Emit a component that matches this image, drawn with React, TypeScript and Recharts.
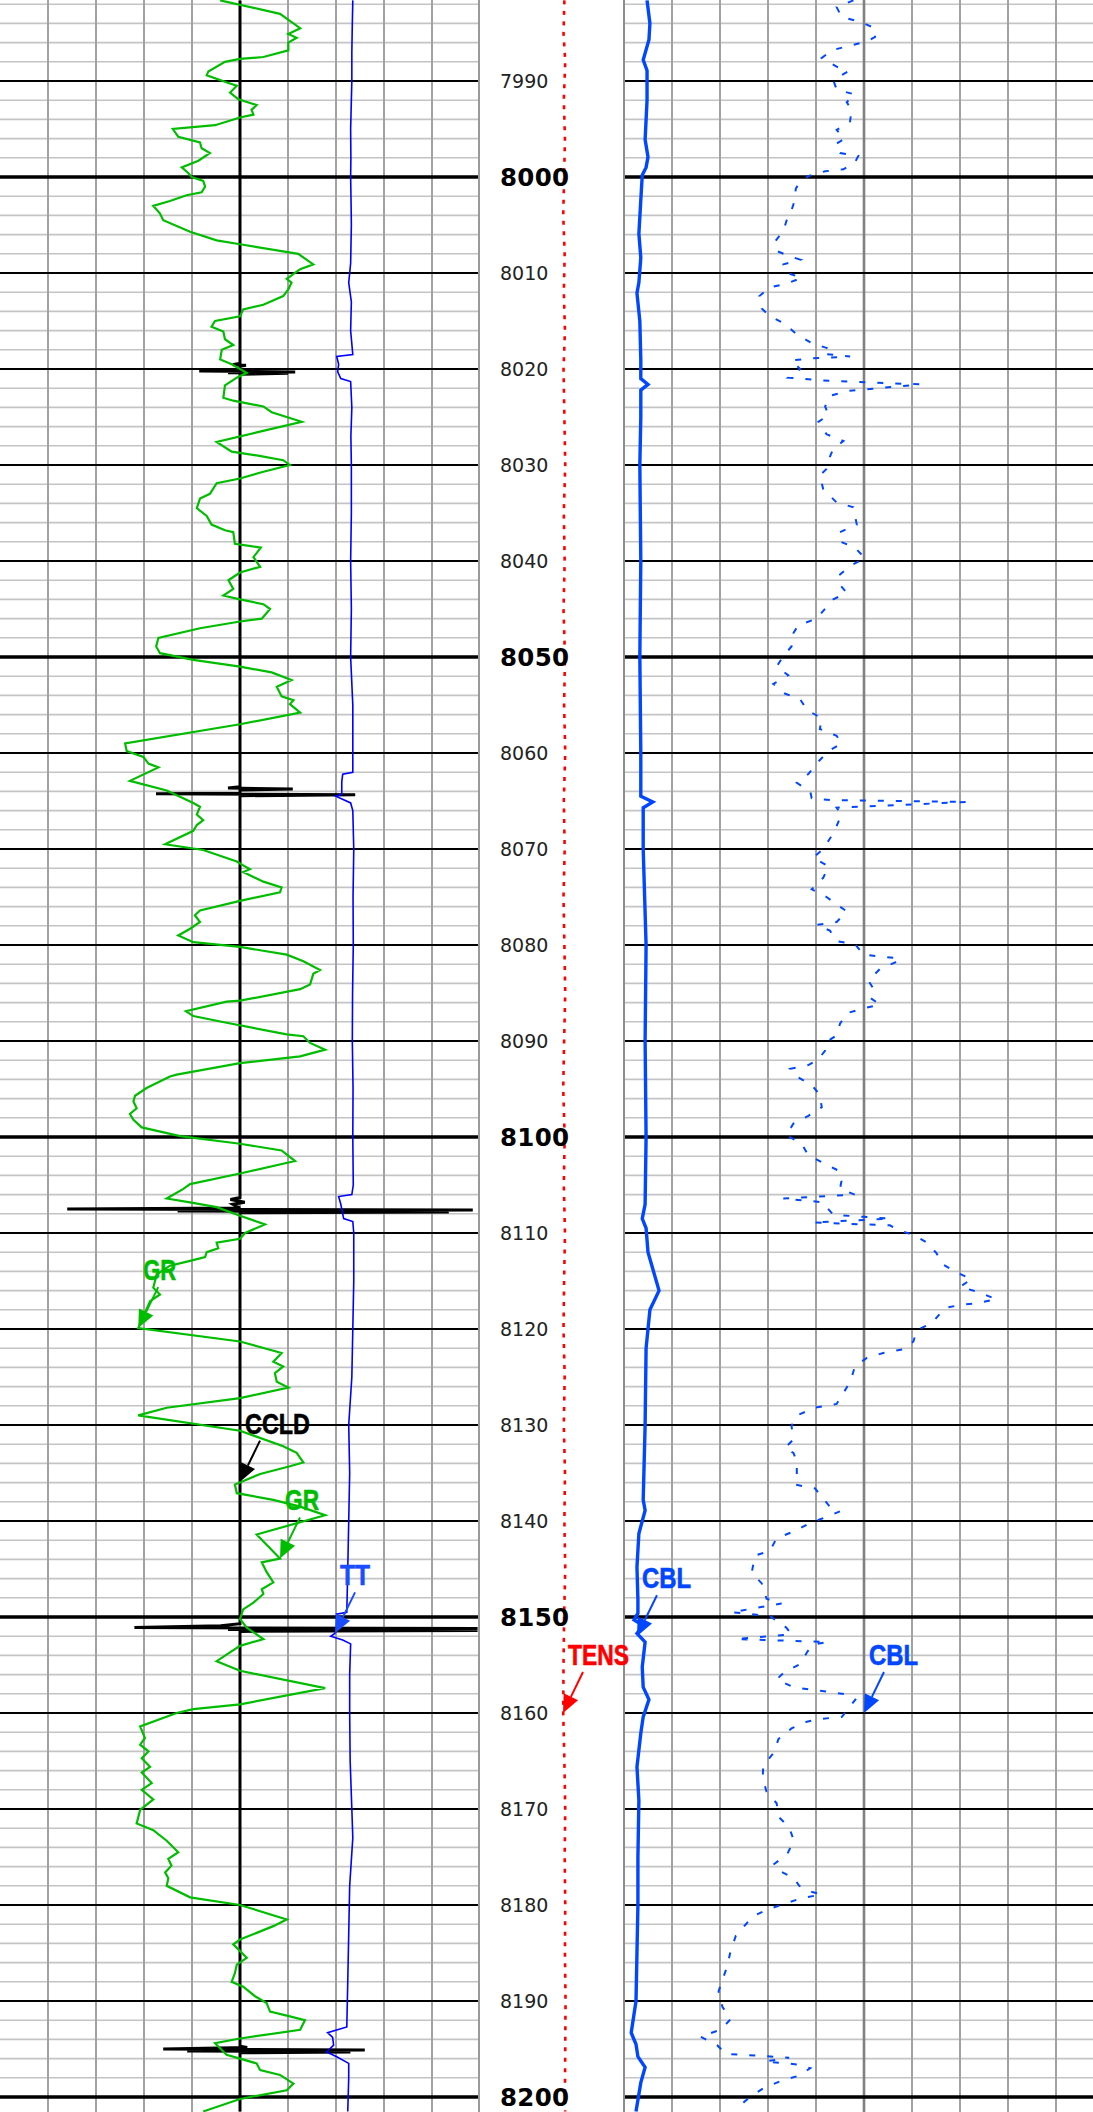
import React from 'react';
import { LineChart, Line, XAxis, YAxis, ReferenceLine, ReferenceDot } from 'recharts';

// ---------------- depth frame ----------------
const DEPTH_DOMAIN: [number, number] = [7981.56, 8201.56];
const H = 2112;

const DEPTH_LABELS = [7990, 8000, 8010, 8020, 8030, 8040, 8050, 8060, 8070, 8080, 8090, 8100, 8110, 8120, 8130, 8140, 8150, 8160, 8170, 8180, 8190, 8200];
const MAJOR_DEPTHS = [7990, 8010, 8020, 8030, 8040, 8060, 8070, 8080, 8090, 8110, 8120, 8130, 8140, 8160, 8170, 8180, 8190];
const BOLD_DEPTHS = [8000, 8050, 8100, 8150, 8200];
const MINOR_DEPTHS: number[] = [];
for (let d = 7982; d <= 8200; d += 2) if (d % 10 !== 0) MINOR_DEPTHS.push(d);
const DIVISIONS = [1, 2, 3, 4, 5, 6, 7, 8, 9];

// ---------------- curves: [depth ft, value] ----------------
// GR, API (0-150)
const GR: [number, number][] = [
  [7981.6,68.8],[7983.0,87.5],[7984.5,93.8],[7985.1,90.1],[7985.5,92.7],[7986.0,90.1],[7986.8,90.1],[7987.5,82.3],[7987.7,75.0],[7988.0,70.3],[7989.0,65.1],[7989.4,64.6],[7990.2,71.4],[7990.5,74.0],[7991.2,71.9],[7991.9,74.5],[7992.5,80.2],[7993.0,78.6],[7993.5,79.2],[7993.8,75.0],[7994.6,67.2],[7995.0,54.0],[7995.8,55.7],[7996.4,62.5],[7997.0,63.0],[7997.5,65.6],[7998.3,62.0],[7999.0,56.8],[7999.6,58.9],[8000.0,59.9],[8000.4,63.5],[8001.0,64.1],[8001.6,63.0],[8001.9,58.3],[8002.5,53.1],[8003.0,47.9],[8003.8,50.0],[8004.5,51.0],[8005.7,59.4],[8006.6,67.7],[8007.0,75.0],[8008.0,93.2],[8009.1,97.9],[8009.6,93.8],[8010.6,89.6],[8011.0,91.1],[8011.7,90.1],[8012.4,88.5],[8013.3,82.3],[8013.8,76.0],[8014.5,75.0],[8015.0,67.2],[8015.6,66.1],[8016.1,69.8],[8016.9,70.3],[8017.5,72.9],[8018.0,69.3],[8019.0,68.8],[8019.5,72.4],[8020.4,77.1],[8020.9,74.0],[8021.7,70.3],[8023.0,69.8],[8023.3,72.9],[8023.9,82.3],[8024.5,84.9],[8025.5,94.3],[8026.6,80.2],[8027.6,67.7],[8028.6,72.4],[8029.0,80.2],[8029.5,88.5],[8030.0,90.6],[8030.7,82.3],[8031.4,75.0],[8031.9,67.7],[8033.0,65.6],[8033.5,62.5],[8034.5,61.5],[8035.3,64.6],[8036.2,66.1],[8036.8,70.3],[8037.0,72.9],[8038.2,73.4],[8038.6,81.5],[8039.6,79.2],[8040.6,81.3],[8041.2,75.0],[8042.0,71.4],[8042.9,72.9],[8043.6,69.8],[8044.0,75.0],[8044.5,82.3],[8045.0,84.4],[8046.0,81.8],[8046.3,75.0],[8047.0,62.5],[8048.0,49.5],[8048.9,48.8],[8049.6,50.0],[8050.3,60.4],[8051.0,75.0],[8051.6,84.9],[8052.4,91.1],[8053.1,86.5],[8054.1,88.0],[8054.5,91.7],[8054.9,90.6],[8055.8,93.8],[8057.0,75.0],[8059.0,39.1],[8059.8,39.6],[8060.4,44.8],[8061.1,46.4],[8061.5,49.5],[8062.9,40.6],[8063.9,52.1],[8065.2,60.4],[8065.6,62.5],[8066.4,61.5],[8067.0,63.5],[8067.5,61.5],[8068.1,60.4],[8069.5,51.6],[8070.1,63.5],[8071.3,74.0],[8071.7,76.0],[8072.1,78.1],[8072.4,76.0],[8073.4,82.3],[8074.0,88.0],[8074.5,87.5],[8075.4,75.0],[8076.4,62.5],[8076.9,60.9],[8077.6,62.5],[8078.3,59.4],[8079.0,55.7],[8079.7,60.4],[8080.2,75.0],[8081.0,89.6],[8081.7,94.8],[8082.6,100.0],[8083.0,97.9],[8084.1,96.9],[8084.6,93.8],[8085.8,75.0],[8085.9,70.8],[8086.9,58.1],[8087.4,60.4],[8088.1,70.8],[8089.3,89.6],[8089.5,94.8],[8090.2,96.9],[8090.9,101.6],[8091.6,93.8],[8092.3,75.0],[8093.5,55.2],[8093.7,53.1],[8094.9,45.8],[8095.7,42.2],[8096.3,41.7],[8097.0,42.7],[8097.6,40.6],[8098.2,41.7],[8099.0,44.3],[8099.9,56.3],[8100.7,75.0],[8101.4,88.0],[8102.5,92.2],[8103.8,75.0],[8104.9,59.4],[8105.4,57.3],[8106.4,52.1],[8106.8,59.4],[8107.3,67.7],[8108.2,75.0],[8109.1,82.8],[8110.0,76.6],[8110.6,75.0],[8111.0,67.7],[8111.6,68.2],[8112.0,64.6],[8112.5,64.1],[8112.9,59.4],[8113.4,53.1],[8114.3,49.0],[8115.7,47.9],[8116.4,50.0],[8117.1,46.9],[8119.9,43.2],[8121.3,75.0],[8122.5,88.0],[8123.4,85.4],[8123.9,88.5],[8124.6,85.9],[8125.5,86.5],[8126.1,90.1],[8127.2,75.0],[8128.2,52.1],[8129.0,43.2],[8130.6,75.0],[8132.2,88.5],[8132.9,92.7],[8133.9,94.8],[8134.3,90.6],[8135.1,81.3],[8136.2,73.4],[8137.1,74.0],[8137.8,85.4],[8138.5,93.8],[8139.4,101.6],[8141.4,80.2],[8143.9,87.5],[8144.3,81.8],[8145.3,83.3],[8146.4,85.4],[8147.1,81.8],[8147.6,82.3],[8148.5,79.2],[8149.2,76.0],[8150.2,75.0],[8151.1,77.1],[8152.3,82.3],[8153.0,75.0],[8154.6,67.7],[8155.6,75.0],[8157.4,101.6],[8159.1,75.0],[8159.6,60.4],[8160.0,55.2],[8161.4,43.8],[8162.6,45.3],[8163.3,43.8],[8164.0,46.4],[8164.7,44.3],[8165.6,46.9],[8166.2,44.3],[8167.3,47.4],[8168.0,44.3],[8169.0,47.9],[8170.1,43.8],[8171.5,42.7],[8172.2,47.9],[8173.3,52.1],[8174.5,55.7],[8175.2,52.6],[8175.9,53.6],[8176.6,51.6],[8177.2,52.6],[8178.0,52.1],[8179.2,59.4],[8180.0,75.0],[8181.5,89.6],[8182.2,85.4],[8182.9,80.2],[8183.6,75.0],[8184.1,72.9],[8184.8,75.0],[8185.5,77.1],[8186.2,74.0],[8187.1,73.4],[8188.0,72.4],[8188.5,76.0],[8189.5,79.7],[8190.2,83.3],[8191.1,84.4],[8191.6,90.6],[8192.0,95.3],[8193.0,93.8],[8193.9,75.0],[8194.4,67.2],[8195.6,70.8],[8196.0,75.0],[8196.5,80.2],[8197.2,81.3],[8197.7,87.5],[8198.6,91.7],[8199.3,89.6],[8200.2,75.0],[8201.5,63.5],
];

// CCLD, collar locator (-10..10)
const CCLD: [number, number][] = [
  [7981.6,0],[8019.4,0],[8019.55,-0.3],[8019.6,0.25],[8019.7,0],[8020.1,0],[8020.2,-1.7],[8020.3,2.3],[8020.4,-0.5],[8020.45,2.0],[8020.55,0],
  [8063.5,0],[8063.65,-0.5],[8063.75,2.2],[8063.85,0],[8064.2,0],[8064.25,-3.5],[8064.35,4.8],[8064.45,0],
  [8106.3,0],[8106.5,-0.4],[8106.8,0.2],[8107.0,-0.3],[8107.4,0],[8107.5,-7.2],[8107.6,9.7],[8107.7,-2.6],[8107.8,8.7],[8107.9,0],
  [8150.7,0],[8150.9,-0.8],[8151.1,-4.4],[8151.2,9.9],[8151.3,-0.5],[8151.4,9.9],[8151.5,0],
  [8194.7,0],[8194.85,0.3],[8195.0,-3.2],[8195.1,5.2],[8195.2,-2.2],[8195.3,4.6],[8195.4,0],[8201.5,0],
];

// TT, travel time in microseconds (400 left .. 200 right)
const TT: [number, number][] = [
  [7981.6,253.0],[7984.0,253.2],[7987.0,253.4],[7990.0,253.4],[7993.0,253.7],[7995.0,253.9],[7998.0,253.8],[8000.0,253.9],[8003.0,253.7],[8005.0,253.6],[8009.0,253.9],[8011.0,254.7],[8013.0,253.6],[8016.0,253.9],[8018.5,253.0],[8018.7,259.7],[8019.5,258.9],[8020.3,259.3],[8021.0,258.0],[8021.3,253.9],[8024.0,253.4],[8027.0,253.8],[8030.0,253.6],[8035.0,253.6],[8040.0,253.9],[8045.0,253.6],[8050.0,253.9],[8055.0,253.0],[8060.0,253.0],[8062.0,253.0],[8062.2,257.2],[8063.0,257.6],[8064.3,257.6],[8064.5,260.1],[8065.2,253.9],[8066.0,253.0],[8070.0,252.6],[8075.0,252.9],[8080.0,252.8],[8085.0,253.1],[8090.0,253.2],[8095.0,252.9],[8100.0,253.0],[8105.0,252.8],[8106.0,253.4],[8106.2,258.9],[8107.0,258.0],[8108.5,256.8],[8108.8,253.0],[8110.0,252.6],[8115.0,252.6],[8120.0,253.0],[8125.0,253.4],[8130.0,254.7],[8135.0,254.3],[8140.0,254.7],[8145.0,255.1],[8149.5,255.5],[8149.7,259.7],[8150.5,258.0],[8151.7,260.5],[8152.0,262.2],[8152.4,257.2],[8152.8,253.9],[8156.0,254.3],[8160.0,254.3],[8165.0,254.1],[8170.0,253.4],[8173.0,253.0],[8178.0,254.3],[8183.0,254.7],[8188.0,255.1],[8192.7,255.5],[8193.3,263.5],[8193.8,261.4],[8194.6,261.0],[8195.3,263.9],[8195.8,259.7],[8196.5,254.7],[8198.0,254.7],[8201.5,255.1],
];

// CBL amplitude, mV (0-100)
const CBL: [number, number][] = [
  [7981.6,4.8],[7984.0,5.4],[7985.7,5.2],[7987.8,4.0],[7988.9,4.8],[7992.0,4.8],[7996.1,4.4],[7997.9,5.0],[7999.0,4.6],[7999.8,3.8],[8002.4,3.5],[8005.9,3.1],[8008.4,3.5],[8011.0,3.1],[8012.1,2.7],[8015.0,3.3],[8019.0,3.5],[8021.0,3.5],[8021.6,5.0],[8022.2,3.5],[8025.0,3.5],[8030.0,3.3],[8040.0,3.5],[8050.0,3.3],[8060.0,3.5],[8064.5,3.5],[8065.1,6.0],[8065.7,4.0],[8070.0,4.0],[8080.0,4.6],[8090.0,4.4],[8100.0,4.6],[8107.0,4.4],[8108.5,3.8],[8109.5,4.6],[8112.0,5.0],[8116.0,7.3],[8118.0,5.4],[8122.0,4.6],[8130.0,4.4],[8137.8,4.0],[8138.9,4.4],[8141.3,3.1],[8144.8,2.7],[8148.2,2.9],[8149.6,2.9],[8150.3,2.1],[8150.9,4.0],[8151.7,2.7],[8152.6,4.4],[8155.2,3.8],[8157.3,4.0],[8158.6,5.2],[8160.4,4.0],[8162.1,3.5],[8165.6,2.7],[8169.1,3.1],[8175.0,2.9],[8180.0,2.9],[8185.0,2.7],[8190.0,2.5],[8193.3,1.5],[8194.5,2.5],[8195.8,2.9],[8196.9,4.4],[8198.5,3.5],[8201.5,2.5],
];

// CBL amplified, mV (0-10)
const CBL_AMP: [number, number][] = [
  [7981.6,4.78],[7982.3,4.43],[7983.3,4.53],[7983.9,4.95],[7984.5,5.23],[7985.4,5.23],[7985.9,5.06],[7986.3,4.71],[7986.8,4.33],[7987.6,4.12],[7988.5,4.43],[7989.0,4.67],[7989.9,4.36],[7990.9,4.43],[7991.4,4.81],[7992.2,4.64],[7993.0,4.74],[7994.2,4.71],[7995.1,4.43],[7996.0,4.60],[7996.6,4.40],[7997.5,4.50],[7997.8,4.88],[7998.5,4.81],[7999.2,4.57],[7999.4,4.19],[7999.9,3.84],[8000.5,3.67],[8001.2,3.58],[8002.7,3.54],[8003.9,3.46],[8004.5,3.39],[8005.6,3.32],[8006.7,3.15],[8007.7,3.18],[8008.2,3.42],[8008.6,3.67],[8009.1,3.32],[8009.9,3.35],[8010.5,3.70],[8011.1,3.39],[8011.5,3.04],[8012.4,2.82],[8013.7,2.87],[8014.5,3.04],[8015.3,3.35],[8016.4,3.60],[8017.3,3.91],[8017.8,4.22],[8018.4,4.12],[8018.7,4.71],[8018.9,3.88],[8019.1,3.49],[8020.0,3.67],[8020.9,3.42],[8021.2,4.15],[8021.6,6.17],[8022.3,4.64],[8022.8,4.29],[8023.9,4.19],[8024.8,4.26],[8025.5,4.05],[8026.8,4.22],[8027.5,4.57],[8028.3,4.36],[8029.5,4.26],[8030.4,4.22],[8031.1,4.08],[8032.5,4.15],[8033.9,4.43],[8034.4,4.78],[8036.2,4.85],[8037.0,4.50],[8037.9,4.47],[8038.6,4.81],[8039.7,5.02],[8040.5,4.71],[8041.4,4.50],[8042.3,4.47],[8043.3,4.64],[8044.0,4.36],[8046.0,4.01],[8046.7,3.63],[8047.5,3.53],[8048.9,3.49],[8049.9,3.32],[8051.0,3.18],[8051.9,3.42],[8052.8,3.11],[8053.8,3.35],[8054.4,3.67],[8055.5,3.81],[8056.4,4.12],[8057.5,4.08],[8058.2,4.43],[8059.0,4.53],[8059.8,4.26],[8061.1,4.01],[8062.2,3.84],[8063.1,3.60],[8064.0,3.88],[8064.7,3.91],[8064.9,4.29],[8065.1,7.14],[8065.7,4.43],[8066.4,4.53],[8067.6,4.43],[8068.6,4.33],[8070.0,4.15],[8070.9,3.94],[8071.8,4.26],[8073.0,4.15],[8074.2,3.91],[8075.0,4.22],[8075.9,4.47],[8076.5,4.64],[8077.6,4.43],[8077.9,4.01],[8078.5,4.29],[8079.6,4.43],[8079.9,4.81],[8081.0,4.99],[8081.2,5.33],[8081.4,5.75],[8081.8,5.65],[8082.5,5.33],[8083.7,5.09],[8084.5,5.19],[8085.5,5.13],[8086.2,5.33],[8086.6,4.99],[8087.1,4.64],[8088.2,4.50],[8089.4,4.43],[8090.1,4.22],[8091.0,4.19],[8091.9,4.05],[8092.5,3.84],[8092.9,3.46],[8093.8,3.63],[8094.6,3.91],[8095.6,4.08],[8096.9,4.12],[8097.8,3.84],[8098.6,3.53],[8099.8,3.38],[8100.7,3.70],[8101.9,3.84],[8102.7,4.15],[8103.5,4.47],[8104.6,4.53],[8105.4,4.50],[8106.0,4.81],[8106.4,3.32],[8106.8,4.15],[8107.3,4.22],[8108.1,4.36],[8108.5,5.54],[8108.9,3.94],[8109.2,5.54],[8109.7,5.72],[8110.2,6.03],[8111.0,6.31],[8112.1,6.51],[8113.3,6.65],[8114.1,6.93],[8114.8,7.24],[8115.6,7.00],[8116.1,7.35],[8116.9,7.76],[8117.3,7.35],[8117.5,7.00],[8117.8,6.69],[8119.4,6.41],[8120.1,6.10],[8121.3,6.03],[8122.1,5.82],[8122.5,5.40],[8123.0,5.06],[8123.9,4.81],[8125.1,4.74],[8126.1,4.64],[8127.8,4.43],[8128.2,3.98],[8129.0,3.60],[8130.1,3.49],[8131.5,3.53],[8132.4,3.35],[8132.9,3.53],[8133.8,3.60],[8135.2,3.60],[8136.2,3.56],[8136.6,3.98],[8137.5,4.12],[8138.5,4.29],[8139.0,4.50],[8139.7,4.15],[8140.3,3.84],[8141.1,3.53],[8141.8,3.18],[8143.1,3.04],[8143.6,2.73],[8145.4,2.66],[8146.5,2.87],[8148.1,2.97],[8148.6,3.28],[8149.5,2.24],[8149.9,3.04],[8151.1,3.38],[8151.8,3.49],[8152.3,2.33],[8152.6,4.24],[8152.9,3.92],[8153.7,3.81],[8154.9,3.67],[8155.7,3.35],[8156.5,3.18],[8157.3,3.53],[8157.6,3.94],[8157.8,4.28],[8158.1,4.68],[8158.6,4.82],[8160.4,4.54],[8160.6,4.13],[8160.9,3.81],[8161.6,3.49],[8162.7,3.22],[8164.2,3.11],[8165.5,2.90],[8166.8,2.89],[8168.2,2.97],[8169.4,3.18],[8170.8,3.22],[8171.9,3.44],[8173.3,3.54],[8174.7,3.40],[8175.8,3.11],[8176.4,3.22],[8177.2,3.54],[8178.0,3.65],[8178.6,3.89],[8178.9,4.11],[8179.3,3.69],[8179.9,3.33],[8180.5,2.97],[8181.2,2.68],[8182.0,2.54],[8183.2,2.33],[8184.8,2.22],[8186.4,2.15],[8187.8,2.05],[8189.0,1.97],[8190.6,2.05],[8191.9,2.22],[8193.0,2.01],[8193.7,1.59],[8194.6,1.94],[8195.5,2.12],[8195.6,2.47],[8195.9,3.44],[8196.3,2.94],[8196.6,3.60],[8197.0,3.88],[8197.8,3.63],[8198.3,3.28],[8199.1,2.90],[8199.9,2.65],[8200.9,2.41],[8201.5,2.35],
];

// TENS, cable tension lbs (0-5000 across the depth track)
const TENS: [number, number][] = [
  [7981.6,2930],[7985,2900],[7988,2960],[7992,2910],[7996,2950],[8000,2920],[8004,2890],[8008,2940],[8012,2910],[8016,2950],[8020,2900],[8025,2930],[8030,2960],[8035,2910],[8040,2940],[8045,2900],[8050,2950],[8055,2920],[8060,2960],[8065,2910],[8070,2940],[8075,2900],[8080,2930],[8085,2960],[8090,2920],[8095,2890],[8100,2940],[8105,2910],[8110,2950],[8115,2920],[8120,2900],[8125,2940],[8130,2910],[8135,2950],[8140,2930],[8145,2960],[8150,2920],[8155,2900],[8160,2890],[8165,2930],[8170,2960],[8175,2940],[8180,2960],[8185,2950],[8190,2970],[8195,2960],[8200,2950],[8201.5,2960],
];

const GREEN = '#00bd00';
const BLUE = '#0047ff';
const TT_BLUE = '#0000ff';
const RED = '#ff0000';

type Ann = { text: string; axis: string; value: number; depth: number; color: string; w: number };
const LEFT_ANN: Ann[] = [
  { text: 'GR', axis: 'gr', value: 43.2, depth: 8119.9, color: GREEN, w: 33 },
  { text: 'CCLD', axis: 'ccl', value: 0, depth: 8135.9, color: '#000000', w: 65 },
  { text: 'GR', axis: 'gr', value: 87.5, depth: 8143.9, color: GREEN, w: 34 },
  { text: 'TT', axis: 'tt', value: 260.4, depth: 8151.7, color: '#1a4dff', w: 30 },
];
const RIGHT_ANN: Ann[] = [
  { text: 'CBL', axis: 'cbl', value: 2.7, depth: 8152.0, color: BLUE, w: 49 },
  { text: 'CBL', axis: 'cblx', value: 5.0, depth: 8160.0, color: BLUE, w: 49 },
];
const MID_ANN: Ann[] = [
  { text: 'TENS', axis: 'tens', value: 2882, depth: 8160.0, color: RED, w: 61 },
];

const rows = (pts: [number, number][]) => pts.map(([d, v]) => ({ d, v }));
const GRID_ROWS = MINOR_DEPTHS.map((d) => ({ d }));
const M = { top: 0, right: 0, bottom: 0, left: 0 };

function arrowShape(a: Ann) {
  return (p: any) => {
    const cx = p.cx, cy = p.cy;
    const ex = cx + 20, ey = cy - 41;
    const len = Math.hypot(ex - cx, ey - cy);
    const ux = (ex - cx) / len, uy = (ey - cy) / len;
    const bx = cx + ux * 18, by = cy + uy * 18;
    const px = -uy * 8, py = ux * 8;
    return (
      <g>
        <line x1={bx} y1={by} x2={ex} y2={ey} stroke={a.color} strokeWidth={2} />
        <polygon points={`${cx},${cy} ${bx + px},${by + py} ${bx - px},${by - py}`} fill={a.color} />
        <text x={cx + 5} y={cy - 48} fill={a.color} stroke={a.color} strokeWidth={0.6} fontFamily="'Liberation Sans Narrow', 'Liberation Sans', Arial, sans-serif" fontWeight="bold" fontSize={29} textLength={a.w} lengthAdjust="spacingAndGlyphs">{a.text}</text>
      </g>
    );
  };
}

function GridTrack({ width, strongDiv }: { width: number; strongDiv?: number }) {
  return (
    <LineChart width={width} height={H} layout="vertical" margin={M} data={GRID_ROWS}>
      <XAxis xAxisId="g" type="number" domain={[0, 10]} hide allowDataOverflow />
      <YAxis yAxisId="d" type="number" dataKey="d" domain={DEPTH_DOMAIN} hide allowDataOverflow />
      {MINOR_DEPTHS.map((d) => (
        <ReferenceLine key={'m' + d} xAxisId="g" yAxisId="d" y={d} stroke="#c4c4c4" strokeWidth={1.6} />
      ))}
      {DIVISIONS.map((v) => (
        <ReferenceLine key={'v' + v} xAxisId="g" yAxisId="d" x={v} stroke={v === strongDiv ? '#808080' : '#a2a2a2'} strokeWidth={v === strongDiv ? 2.6 : 2} />
      ))}
      {MAJOR_DEPTHS.map((d) => (
        <ReferenceLine key={'M' + d} xAxisId="g" yAxisId="d" y={d} stroke="#000" strokeWidth={2} />
      ))}
      {BOLD_DEPTHS.map((d) => (
        <ReferenceLine key={'B' + d} xAxisId="g" yAxisId="d" y={d} stroke="#000" strokeWidth={3.5} />
      ))}
    </LineChart>
  );
}

const DepthTick = (props: any) => {
  const { y, payload } = props;
  const v = payload.value;
  const bold = v % 50 === 0;
  return (
    <text x={20} y={y} dy={bold ? 9 : 6.9} fontFamily="'DejaVu Sans', sans-serif" fontSize={bold ? 24.5 : 19} fontWeight={bold ? 'bold' : 'normal'} fill={bold ? '#000' : '#222'} letterSpacing={bold ? 0.3 : 0}>
      {v}
    </text>
  );
};

const abs = (left: number, width: number): React.CSSProperties => ({ position: 'absolute', left, top: 0, width, height: H });

export default function App() {
  return (
    <div style={{ position: 'absolute', left: 0, top: 0, width: 1093, height: H, overflow: 'hidden', background: '#fff' }}>
      <style>{`.recharts-surface{overflow:visible !important}`}</style>
      <div style={abs(0, 480)}>
        <GridTrack width={480} />
      </div>
      <div style={abs(624, 480)}>
        <GridTrack width={480} strongDiv={5} />
      </div>
      <div style={{ position: 'absolute', left: 478, top: 0, width: 2, height: H, background: '#9a9a9a' }} />
      <div style={{ position: 'absolute', left: 622.5, top: 0, width: 2.5, height: H, background: '#8c8c8c' }} />

      <div style={abs(0, 480)}>
        <LineChart width={480} height={H} layout="vertical" margin={M}>
          <XAxis xAxisId="gr" type="number" domain={[0, 150]} hide allowDataOverflow />
          <XAxis xAxisId="ccl" type="number" domain={[-10, 10]} hide allowDataOverflow />
          <XAxis xAxisId="tt" type="number" domain={[200, 400]} reversed hide allowDataOverflow />
          <YAxis yAxisId="d" type="number" dataKey="d" domain={DEPTH_DOMAIN} hide allowDataOverflow />
          <Line data={rows(CCLD)} dataKey="v" xAxisId="ccl" yAxisId="d" stroke="#000" strokeWidth={3} dot={false} activeDot={false} isAnimationActive={false} />
          <Line data={rows(TT)} dataKey="v" xAxisId="tt" yAxisId="d" stroke={TT_BLUE} strokeWidth={1.6} dot={false} activeDot={false} isAnimationActive={false} />
          <Line data={rows(GR)} dataKey="v" xAxisId="gr" yAxisId="d" stroke={GREEN} strokeWidth={2.2} dot={false} activeDot={false} isAnimationActive={false} />
          {LEFT_ANN.map((a, i) => (
            <ReferenceDot key={'la' + i} xAxisId={a.axis} yAxisId="d" x={a.value} y={a.depth} ifOverflow="visible" shape={arrowShape(a)} />
          ))}
        </LineChart>
      </div>

      <div style={abs(624, 480)}>
        <LineChart width={480} height={H} layout="vertical" margin={M}>
          <XAxis xAxisId="cbl" type="number" domain={[0, 100]} hide allowDataOverflow />
          <XAxis xAxisId="cblx" type="number" domain={[0, 10]} hide allowDataOverflow />
          <YAxis yAxisId="d" type="number" dataKey="d" domain={DEPTH_DOMAIN} hide allowDataOverflow />
          <Line data={rows(CBL)} dataKey="v" xAxisId="cbl" yAxisId="d" stroke={BLUE} strokeWidth={3.4} dot={false} activeDot={false} isAnimationActive={false} />
          <Line data={rows(CBL_AMP)} dataKey="v" xAxisId="cblx" yAxisId="d" stroke={BLUE} strokeWidth={2} strokeDasharray="6 12" dot={false} activeDot={false} isAnimationActive={false} />
          {RIGHT_ANN.map((a, i) => (
            <ReferenceDot key={'ra' + i} xAxisId={a.axis} yAxisId="d" x={a.value} y={a.depth} ifOverflow="visible" shape={arrowShape(a)} />
          ))}
        </LineChart>
      </div>

      <div style={abs(480, 144)}>
        <LineChart width={144} height={H} layout="vertical" margin={M}>
          <XAxis xAxisId="tens" type="number" domain={[0, 5000]} hide allowDataOverflow />
          <YAxis yAxisId="d" type="number" dataKey="d" domain={DEPTH_DOMAIN} allowDataOverflow ticks={DEPTH_LABELS} interval={0} mirror width={60} axisLine={false} tickLine={false} tick={DepthTick} />
          <Line data={rows(TENS)} dataKey="v" xAxisId="tens" yAxisId="d" stroke={RED} strokeWidth={2.6} strokeDasharray="4 6.5" dot={false} activeDot={false} isAnimationActive={false} />
          {MID_ANN.map((a, i) => (
            <ReferenceDot key={'ma' + i} xAxisId={a.axis} yAxisId="d" x={a.value} y={a.depth} ifOverflow="visible" shape={arrowShape(a)} />
          ))}
        </LineChart>
      </div>
    </div>
  );
}
